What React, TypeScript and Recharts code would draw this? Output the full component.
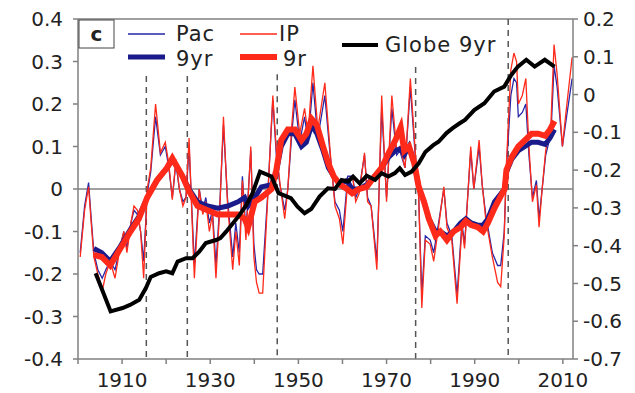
import React from 'react';
import {
  LineChart,
  Line,
  XAxis,
  YAxis,
  ReferenceLine,
} from 'recharts';

// thin annual-ish series (left axis)
const thinYears = [
  1900.5, 1901.5, 1902.4, 1903.0, 1903.6, 1904.5, 1905.5, 1906.3, 1907.3, 1908.4,
  1909.5, 1910.4, 1911.1, 1912.0, 1912.7, 1913.5, 1914.2, 1914.9, 1915.7, 1916.5,
  1917.6, 1918.7, 1919.8, 1920.6, 1921.4, 1922.2, 1923.0, 1923.8, 1924.5, 1925.2,
  1925.8, 1926.4, 1927.5, 1928.3, 1929.0, 1929.8, 1930.5, 1931.3, 1932.2, 1933.0,
  1933.9, 1935.1, 1935.8, 1936.6, 1937.3, 1938.1, 1939.2, 1939.9, 1940.5, 1941.1,
  1941.9, 1943.0, 1944.2, 1945.0, 1945.8, 1946.9, 1947.6, 1948.5, 1949.2, 1950.3,
  1951.4, 1952.2, 1953.3, 1954.4, 1956.0, 1957.2, 1958.3, 1959.3, 1960.1, 1961.2,
  1962.3, 1963.0, 1963.8, 1965.0, 1965.7, 1966.5, 1967.8, 1968.9, 1970.0, 1971.2,
  1972.3, 1973.0, 1974.2, 1975.4, 1976.5, 1977.3, 1978.0, 1978.8, 1979.9, 1980.7,
  1981.8, 1983.0, 1983.7, 1984.8, 1986.0, 1987.1, 1987.7, 1989.1, 1989.8, 1991.0,
  1991.7, 1992.5, 1994.0, 1995.2, 1995.9, 1996.7, 1997.2, 1998.2, 1998.9, 1999.5,
  1999.9, 2000.8, 2001.6, 2002.3, 2003.1, 2004.0, 2004.6, 2005.3, 2006.1, 2007.3,
  2008.0, 2008.7, 2009.9, 2010.7, 2012.1,
];

const ipValues = [
  -0.16, -0.05, 0.005, -0.08, -0.16, -0.2, -0.24, -0.2, -0.17, -0.21,
  -0.14, -0.1, -0.15, -0.08, -0.04, -0.05, -0.1, -0.21, 0.0, 0.05,
  0.2, 0.085, 0.11, 0.06, -0.025, 0.07, 0.0, -0.04, -0.02, 0.12,
  -0.05, -0.21, 0.0, -0.06, -0.03, -0.1, -0.06, -0.21, -0.04, 0.17,
  -0.03, -0.19, -0.1, -0.18, 0.02, -0.12, 0.1, -0.16, -0.22, -0.245,
  -0.245, -0.03, 0.22, 0.09, 0.015, -0.07, 0.0, 0.15, 0.24, 0.13,
  0.19, 0.13, 0.29, 0.14, 0.25, 0.09, -0.04, -0.07, -0.13, 0.02,
  0.03, -0.03, -0.01, 0.085, -0.03, -0.04, -0.19, 0.22, -0.03, 0.22,
  0.09, 0.1, 0.05, 0.26, 0.09, -0.02, -0.28, -0.12, -0.13, -0.17,
  -0.09, 0.005, -0.09, -0.12, -0.27, -0.09, -0.14, 0.1, 0.0, 0.115,
  0.01, -0.07, -0.16, -0.22, -0.23, -0.11, 0.06, 0.28, 0.32, 0.3,
  0.2, 0.22, 0.26, 0.1, -0.03, 0.01, -0.09, 0.0, 0.09, 0.155,
  0.34, 0.27, 0.1, 0.18, 0.31,
];

const pacValues = [
  -0.15, -0.04, 0.015, -0.07, -0.15, -0.19, -0.21, -0.19, -0.17, -0.19,
  -0.14, -0.1, -0.14, -0.08, -0.05, -0.06, -0.1, -0.17, -0.01, 0.04,
  0.17, 0.08, 0.1, 0.05, -0.02, 0.06, 0.0, -0.03, -0.02, 0.1,
  -0.04, -0.18, 0.0, -0.05, -0.02, -0.08, -0.05, -0.18, -0.03, 0.15,
  -0.02, -0.16, -0.08, -0.15, 0.03, -0.1, 0.09, -0.13, -0.19, -0.2,
  -0.2, -0.02, 0.21, 0.08, 0.01, -0.05, 0.0, 0.13, 0.21, 0.11,
  0.17, 0.11, 0.25, 0.12, 0.22, 0.08, -0.03, -0.05, -0.1, 0.03,
  0.03, -0.02, 0.0, 0.08, -0.02, -0.04, -0.17, 0.19, -0.02, 0.19,
  0.08, 0.09, 0.05, 0.24, 0.08, -0.02, -0.25, -0.11, -0.12, -0.15,
  -0.08, 0.0, -0.08, -0.11, -0.25, -0.08, -0.13, 0.09, 0.0, 0.1,
  0.01, -0.06, -0.15, -0.18, -0.18, -0.1, 0.05, 0.22, 0.26, 0.25,
  0.17, 0.18, 0.2, 0.08, -0.02, 0.02, -0.07, 0.0, 0.08, 0.13,
  0.29, 0.24, 0.1, 0.16, 0.26,
];

// 9-year running means (left axis)
const smoothYears = [
  1903.6, 1905.4, 1907.3, 1909.6, 1911.9, 1913.8, 1915.7, 1917.9, 1920.2, 1921.4,
  1922.6, 1923.7, 1925.2, 1927.1, 1929.4, 1931.7, 1934.0, 1936.3, 1937.8, 1938.6,
  1940.1, 1941.6, 1943.9, 1945.0, 1946.1, 1947.6, 1949.2, 1950.7, 1951.8, 1953.0,
  1954.2, 1955.6, 1956.8, 1958.0, 1959.5, 1961.0, 1962.2, 1963.7, 1965.5, 1967.3,
  1968.9, 1970.5, 1972.0, 1973.2, 1974.0, 1975.1, 1976.3, 1977.3, 1978.5, 1979.6,
  1981.1, 1982.2, 1983.7, 1985.2, 1986.8, 1988.0, 1989.2, 1990.7, 1991.9, 1993.0,
  1994.5, 1996.0, 1996.8, 1997.2, 1998.4, 1999.9, 2001.4, 2002.9, 2004.4, 2006.0,
  2007.1, 2008.1,
];

const ip9Values = [
  -0.155, -0.16, -0.18, -0.14, -0.1, -0.07, -0.02, 0.02, 0.05, 0.072,
  0.05, 0.03, -0.005, -0.04, -0.05, -0.06, -0.06, -0.06, -0.07, -0.09,
  -0.03, -0.02, 0.0, 0.045, 0.115, 0.14, 0.14, 0.115, 0.13, 0.165,
  0.15, 0.1, 0.06, 0.03, 0.01, 0.0, -0.01, 0.0, 0.005, 0.03,
  0.05, 0.085, 0.115, 0.145, 0.09, 0.1, 0.06, 0.005, -0.03, -0.07,
  -0.11, -0.1, -0.12, -0.1, -0.09, -0.075, -0.085, -0.09, -0.1, -0.08,
  -0.045, -0.015, 0.0, 0.045, 0.075, 0.1, 0.115, 0.13, 0.13, 0.125,
  0.14, 0.16,
];

const pac9Values = [
  -0.14, -0.15, -0.17, -0.135, -0.095, -0.065, -0.02, 0.02, 0.05, 0.068,
  0.05, 0.03, 0.0, -0.03, -0.04, -0.045, -0.04, -0.03, -0.02, -0.04,
  -0.02, 0.005, 0.01, 0.04, 0.1, 0.13, 0.13, 0.1, 0.11, 0.15,
  0.13, 0.09, 0.05, 0.03, 0.01, 0.02, 0.0, 0.0, 0.01, 0.03,
  0.05, 0.075, 0.09, 0.095, 0.08, 0.1, 0.06, 0.005, -0.03, -0.07,
  -0.1, -0.1, -0.11, -0.1, -0.08, -0.07, -0.08, -0.085, -0.085, -0.07,
  -0.03, -0.01, 0.0, 0.04, 0.07, 0.09, 0.1, 0.11, 0.11, 0.105,
  0.12, 0.14,
];

// global 9-year mean (right axis)
const globeYears = [
  1904.0, 1907.4, 1910.1, 1911.8, 1913.9, 1915.4, 1916.5, 1918.4, 1920.0, 1921.4,
  1922.6, 1924.5, 1926.0, 1927.5, 1929.0, 1931.3, 1932.3, 1933.6, 1935.2, 1936.7,
  1938.2, 1939.6, 1941.3, 1943.9, 1945.5, 1948.3, 1949.8, 1951.4, 1952.9, 1954.8,
  1956.7, 1958.3, 1959.8, 1961.3, 1962.4, 1963.9, 1965.5, 1967.4, 1968.9, 1970.4,
  1971.9, 1973.0, 1974.2, 1975.7, 1977.3, 1978.8, 1980.6, 1981.8, 1983.6, 1985.0,
  1986.6, 1987.8, 1989.9, 1992.2, 1994.4, 1996.7, 1998.3, 1999.8, 2001.7, 2003.6,
  2005.9, 2008.1,
];

const globeValues = [
  -0.473, -0.574, -0.565, -0.557, -0.543, -0.512, -0.483, -0.473, -0.468, -0.473,
  -0.442, -0.433, -0.433, -0.416, -0.393, -0.385, -0.38, -0.363, -0.34, -0.318,
  -0.292, -0.261, -0.204, -0.217, -0.261, -0.274, -0.297, -0.314, -0.303, -0.27,
  -0.248, -0.25, -0.226, -0.23, -0.217, -0.235, -0.215, -0.226, -0.208, -0.217,
  -0.208, -0.195, -0.213, -0.204, -0.182, -0.152, -0.134, -0.125, -0.102, -0.089,
  -0.076, -0.067, -0.041, -0.023, 0.008, 0.021, 0.052, 0.074, 0.092, 0.074,
  0.092, 0.074,
];

// dashed shift years and the left-axis value where each dash starts
const shiftYears = [1915.5, 1924.8, 1945.2, 1976.6, 1997.6];
const shiftTops = [0.266, 0.266, 0.27, 0.287, 0.4];

const xTicks = [1900, 1910, 1920, 1930, 1940, 1950, 1960, 1970, 1980, 1990, 2000, 2010];
const leftTicks = [-0.4, -0.3, -0.2, -0.1, 0, 0.1, 0.2, 0.3, 0.4];
const rightTicks = [-0.7, -0.6, -0.5, -0.4, -0.3, -0.2, -0.1, 0, 0.1, 0.2];

const toPoints = (years: number[], values: number[]) =>
  years.map((year, i) => ({ year, v: values[i] }));

const pacData = toPoints(thinYears, pacValues);
const ipData = toPoints(thinYears, ipValues);
const pac9Data = toPoints(smoothYears, pac9Values);
const ip9Data = toPoints(smoothYears, ip9Values);
const globeData = toPoints(globeYears, globeValues);

const FONT = '"DejaVu Sans", Arial, sans-serif';
const tickStyle = { fontFamily: FONT, fontSize: 20, fill: '#222' };
const AXIS = '#808080';
const BLUE = '#2626a8';
const NAVY = '#1a1a8a';
const RED = '#ff2a1a';

const fmt = (v: number) => (Math.abs(v) < 1e-9 ? '0' : v.toFixed(1));

export default function App() {
  return (
    <div style={{ position: 'absolute', left: 0, top: 0, width: 635, height: 393, background: '#fff' }}>
      <LineChart width={635} height={393} margin={{ top: 19, right: 0, bottom: 0, left: 8 }}>
        <XAxis
          type="number"
          dataKey="year"
          domain={[1900, 2012.3]}
          ticks={xTicks}
          tickFormatter={(v: number) => (v % 20 === 10 ? String(v) : '')}
          allowDuplicatedCategory={false}
          height={34}
          tickSize={5}
          tickMargin={9}
          stroke={AXIS}
          strokeWidth={1.5}
          tick={tickStyle}
        />
        <YAxis
          yAxisId="left"
          domain={[-0.4, 0.4]}
          ticks={leftTicks}
          tickFormatter={fmt}
          width={70}
          tickSize={5}
          tickMargin={10}
          stroke={AXIS}
          strokeWidth={1.5}
          tick={tickStyle}
        />
        <YAxis
          yAxisId="right"
          orientation="right"
          domain={[-0.7, 0.2]}
          ticks={rightTicks}
          tickFormatter={fmt}
          width={62}
          tickSize={5}
          tickMargin={5}
          stroke={AXIS}
          strokeWidth={1.5}
          tick={{ ...tickStyle, textAnchor: 'start' }}
        />
        <ReferenceLine yAxisId="left" y={0.4} stroke={AXIS} strokeWidth={1.5} />
        <ReferenceLine yAxisId="left" y={0} stroke={AXIS} strokeWidth={1.5} />
        {shiftYears.map((yr, i) => (
          <ReferenceLine
            key={yr}
            yAxisId="left"
            segment={[
              { x: yr, y: shiftTops[i] },
              { x: yr, y: -0.4 },
            ]}
            stroke="#555"
            strokeWidth={1.5}
            strokeDasharray="6 5"
          />
        ))}
        <Line yAxisId="left" data={pacData} dataKey="v" type="linear" stroke={BLUE} strokeWidth={1.3} dot={false} isAnimationActive={false} />
        <Line yAxisId="left" data={ipData} dataKey="v" type="linear" stroke={RED} strokeWidth={1.3} dot={false} isAnimationActive={false} />
        <Line yAxisId="left" data={pac9Data} dataKey="v" type="linear" stroke={NAVY} strokeWidth={5} dot={false} isAnimationActive={false} />
        <Line yAxisId="left" data={ip9Data} dataKey="v" type="linear" stroke={RED} strokeWidth={6} dot={false} isAnimationActive={false} />
        <Line yAxisId="right" data={globeData} dataKey="v" type="linear" stroke="#000" strokeWidth={4} dot={false} isAnimationActive={false} />
      </LineChart>
      <svg
        width={635}
        height={393}
        style={{ position: 'absolute', left: 0, top: 0, pointerEvents: 'none' }}
        fontFamily={FONT}
      >
        <rect x={79} y={20} width={35} height={28} fill="#fff" stroke="#444" strokeWidth={1} />
        <text x={96.5} y={41} textAnchor="middle" fontSize={20} fontWeight="bold" fill="#222">c</text>
        <line x1={128} x2={165} y1={34} y2={34} stroke={BLUE} strokeWidth={1.5} />
        <text x={176} y={41} fontSize={21} fill="#222" letterSpacing={1}>Pac</text>
        <line x1={128} x2={165} y1={57} y2={57} stroke={NAVY} strokeWidth={5} />
        <text x={176} y={66} fontSize={21} fill="#222" letterSpacing={1}>9yr</text>
        <line x1={240} x2={277} y1={34} y2={34} stroke={RED} strokeWidth={1.5} />
        <text x={279} y={41} fontSize={21} fill="#222" letterSpacing={1}>IP</text>
        <line x1={240} x2={277} y1={57} y2={57} stroke={RED} strokeWidth={6} />
        <text x={283} y={66} fontSize={21} fill="#222" letterSpacing={1}>9r</text>
        <line x1={342} x2={378} y1={45} y2={45} stroke="#000" strokeWidth={4} />
        <text x={385} y={52} fontSize={21} fill="#222" letterSpacing={1}>Globe 9yr</text>
      </svg>
    </div>
  );
}
